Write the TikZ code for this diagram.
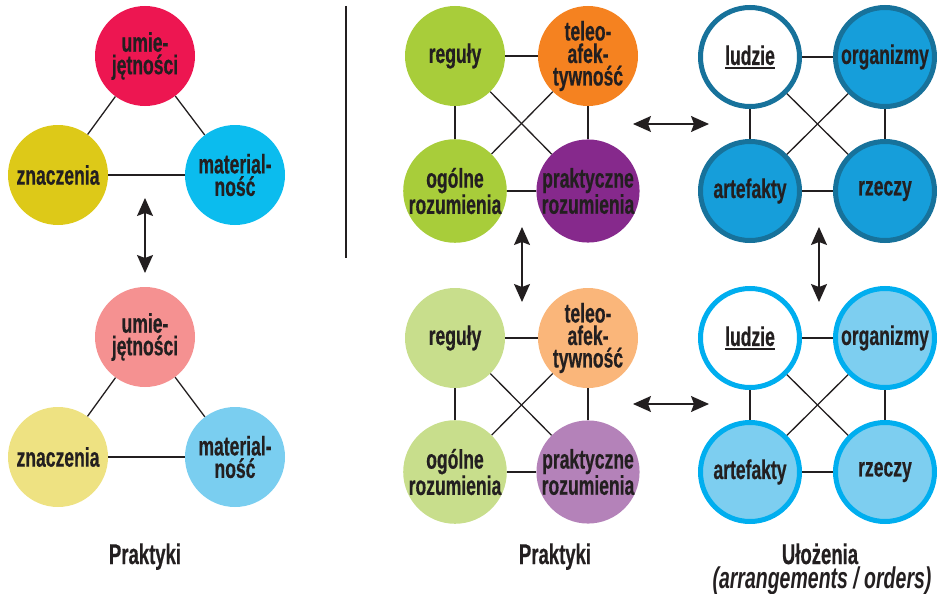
\documentclass[tikz,border=0pt]{standalone}
\usepackage{fontspec}
\setmainfont[FakeStretch=0.65,BoldFeatures={FakeBold=0.5}]{Liberation Sans}
\usepackage{color}
\usetikzlibrary{positioning}
\usetikzlibrary{arrows.meta}

\definecolor{ink}{HTML}{231F20}
\definecolor{crimson}{HTML}{ED1651}
\definecolor{mustard}{HTML}{DDC918}
\definecolor{sky}{HTML}{0BBCEE}
\definecolor{palecrimson}{HTML}{F59191}
\definecolor{palemustard}{HTML}{EEE282}
\definecolor{palesky}{HTML}{7ACEF0}
\definecolor{leaf}{HTML}{A8CD3A}
\definecolor{tangerine}{HTML}{F58220}
\definecolor{plum}{HTML}{86298C}
\definecolor{paleleaf}{HTML}{C8DE8C}
\definecolor{paletangerine}{HTML}{FAB67A}
\definecolor{paleplum}{HTML}{B482B9}
\definecolor{deepring}{HTML}{17729B}
\definecolor{deepfill}{HTML}{169EDA}
\definecolor{lightring}{HTML}{00AEEF}
\definecolor{lightfill}{HTML}{7DCEF0}

\newcommand\thickul[1]{\leavevmode\vtop{\hbox{#1}\kern1.6pt\hrule height 1.8pt}}

\begin{document}
\begin{tikzpicture}
			[x=1pt,y=-1pt,
			 every node/.style={font=\fontsize{27}{22.5}\selectfont\bfseries,text=ink,align=center},
			 bubble/.style={circle,minimum size=100pt,inner sep=0pt},
			 ring/.style={bubble,line width=5pt,minimum size=99pt},
			 caption/.style={anchor=base,font=\fontsize{28.5}{28.5}\selectfont\bfseries},
			 connect/.style={line width=1.3pt,draw=ink},
			 twoway/.style={line width=1.3pt,draw=ink,
			   {Stealth[length=18pt,width=16pt,inset=3pt]}-{Stealth[length=18pt,width=16pt,inset=3pt]}},
		   node distance=133pt and 133pt,on grid]
			\useasboundingbox (0,0) rectangle (937,594);

			\node (u1) [bubble,fill=crimson] at (145,56) {umie-\\jętności};
			\node (z1) [bubble,fill=mustard,below left=119pt and 87pt of u1] {znaczenia}
			  edge [connect] (u1);
			\node (m1) [bubble,fill=sky,below right=119pt and 90pt of u1] {material-\\ność}
			  edge [connect] (u1)
				edge [connect] (z1);

			\node (u2) [bubble,fill=palecrimson] at (145,337) {umie-\\jętności};
			\node (z2) [bubble,fill=palemustard,below left=120pt and 87pt of u2] {znaczenia}
			  edge [connect] (u2);
			\node (m2) [bubble,fill=palesky,below right=120pt and 90pt of u2] {material-\\ność}
			  edge [connect] (u2)
				edge [connect] (z2);
			\node [caption] at (145,564) {Praktyki};

			\coordinate (sepa) at (346,6);
			\coordinate (sepb) at (346,258);
			\draw [line width=1.2pt,ink] (sepa) -- (sepb);

			\node (r1) [bubble,fill=leaf] at (455,56) {reguły};
			\node (t1) [bubble,fill=tangerine,right=of r1] {teleo-\\afek-\\tywność}
			  edge [connect] (r1);
			\node (o1) [bubble,fill=leaf,below=135pt of r1] {ogólne\\rozumienia}
			  edge [connect] (r1)
				edge [connect] (t1);
			\node (p1) [bubble,fill=plum,right=of o1] {praktyczne\\rozumienia}
			  edge [connect] (o1)
				edge [connect] (t1)
				edge [connect] (r1);

			\node (r2) [bubble,fill=paleleaf] at (455,338) {reguły};
			\node (t2) [bubble,fill=paletangerine,right=of r2] {teleo-\\afek-\\tywność}
			  edge [connect] (r2);
			\node (o2) [bubble,fill=paleleaf,below=134pt of r2] {ogólne\\rozumienia}
			  edge [connect] (r2)
				edge [connect] (t2);
			\node (p2) [bubble,fill=paleplum,right=of o2] {praktyczne\\rozumienia}
			  edge [connect] (o2)
				edge [connect] (t2)
				edge [connect] (r2);
			\node [caption] at (555,564) {Praktyki};

			\node (l1) [ring,draw=deepring,fill=white] at (750,57) {\thickul{ludzie}};
			\node (g1) [ring,draw=deepring,fill=deepfill,right=135pt of l1] {organizmy}
			  edge [connect] (l1);
			\node (a1) [ring,draw=deepring,fill=deepfill,below=134pt of l1] {artefakty}
			  edge [connect] (l1)
				edge [connect] (g1);
			\node (c1) [ring,draw=deepring,fill=deepfill,right=135pt of a1] {rzeczy}
			  edge [connect] (a1)
				edge [connect] (g1)
				edge [connect] (l1);

			\node (l2) [ring,draw=lightring,fill=white] at (750,338) {\thickul{ludzie}};
			\node (g2) [ring,draw=lightring,fill=lightfill,right=135pt of l2] {organizmy}
			  edge [connect] (l2);
			\node (a2) [ring,draw=lightring,fill=lightfill,below=134pt of l2] {artefakty}
			  edge [connect] (l2)
				edge [connect] (g2);
			\node (c2) [ring,draw=lightring,fill=lightfill,right=135pt of a2] {rzeczy}
			  edge [connect] (a2)
				edge [connect] (g2)
				edge [connect] (l2);
			\node [caption] at (820,564) {Ułożenia};
			\node [caption,font=\fontsize{30}{30}\selectfont\bfseries] at (822,588) {\itshape (arrangements / orders)};

			\coordinate (v1a) at (145,198);
			\coordinate (v1b) at (145,273);
			\coordinate (v2a) at (522,227);
			\coordinate (v2b) at (522,302);
			\coordinate (v3a) at (819,227);
			\coordinate (v3b) at (819,302);
			\coordinate (h1a) at (633,124);
			\coordinate (h1b) at (709,124);
			\coordinate (h2a) at (633,404);
			\coordinate (h2b) at (709,404);
			\draw [twoway] (v1a) -- (v1b);
			\draw [twoway] (v2a) -- (v2b);
			\draw [twoway] (v3a) -- (v3b);
			\draw [twoway] (h1a) -- (h1b);
			\draw [twoway] (h2a) -- (h2b);
		\end{tikzpicture}
\end{document}
